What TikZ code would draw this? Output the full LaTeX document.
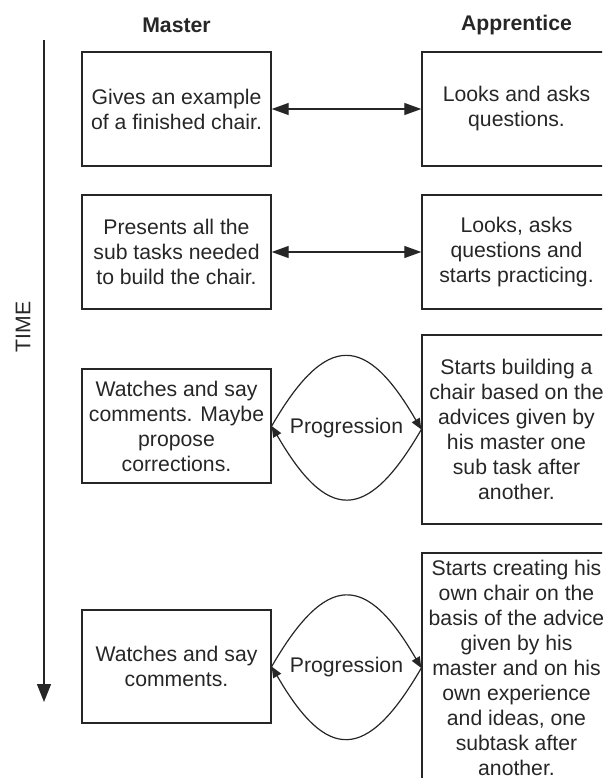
\documentclass[tikz,border=0pt]{standalone}
\usepackage{fontspec}
\setmainfont{Liberation Sans}
\usetikzlibrary{arrows.meta}
\begin{document}
\begin{tikzpicture}[x=1pt,y=-1pt,
  every node/.style={font=\fontsize{21.2}{25}\selectfont, text=black!85},
  stage/.style={draw=black!85, line width=1.4pt, rectangle, inner sep=0pt,
    align=center, minimum width=189pt},
  link/.style={line width=1.3pt, draw=black!85,
    {Triangle[length=17pt,width=12pt]}-{Triangle[length=17pt,width=12pt]}},
  flow/.style={line width=1.2pt, draw=black!85, -{Triangle[length=11pt,width=9pt]}},
  head/.style={font=\bfseries\fontsize{21.2}{25}\selectfont}]
\useasboundingbox (0,0) rectangle (602,778);
\clip (0,0) rectangle (602,778);

% column headings
\node[head] (hm) at (176.5,25) {Master};
\node[head] (ha) at (516.5,25) {Apprentice};

% time axis
\coordinate (t0) at (44,40);
\coordinate (t1) at (44,702);
\draw[line width=1.4pt, draw=black!85, -{Triangle[length=18pt,width=14pt]}] (t0) -- (t1);
\node[rotate=90] (time) at (23,327) {TIME};

% master column
\node[stage, minimum height=114pt] (m1) at (176.5,109) {Gives an example\\of a finished chair.};
\node[stage, minimum height=114pt] (m2) at (176.5,252) {Presents all the\\sub tasks needed\\to build the chair.};
\node[stage, minimum height=114pt] (m3) at (176.5,426) {Watches and say\\comments. Maybe\\propose\\corrections.};
\node[stage, minimum height=113pt] (m4) at (176.5,666.5) {Watches and say\\comments.};

% apprentice column
\node[stage, minimum height=114pt] (a1) at (516.5,109) {Looks and asks\\questions.};
\node[stage, minimum height=114pt] (a2) at (516.5,252) {Looks, asks\\questions and\\starts practicing.};
\node[stage, minimum height=189pt] (a3) at (516.5,429.5) {Starts building a\\chair based on the\\advices given by\\his master one\\sub task after\\another.};
\node[stage, minimum height=230pt] (a4) at (516.5,668) {Starts creating his\\own chair on the\\basis of the advice\\given by his\\master and on his\\own experience\\and ideas, one\\subtask after\\another.};

% exchanges
\draw[link] (m1) -- (a1);
\draw[link] (m2) -- (a2);

% progression loops
\draw[flow] (m3.east) .. controls +(55,-95) and +(-55,-95) .. (a3.west);
\draw[flow] (a3.west) .. controls +(-55,95) and +(55,95) .. (m3.east);
\path (m3.east) -- node (p3) {Progression} (a3.west);

\draw[flow] (m4.east) .. controls +(55,-95) and +(-55,-95) .. (a4.west);
\draw[flow] (a4.west) .. controls +(-55,95) and +(55,95) .. (m4.east);
\path (m4.east) -- node (p4) {Progression} (a4.west);
\end{tikzpicture}
\end{document}
